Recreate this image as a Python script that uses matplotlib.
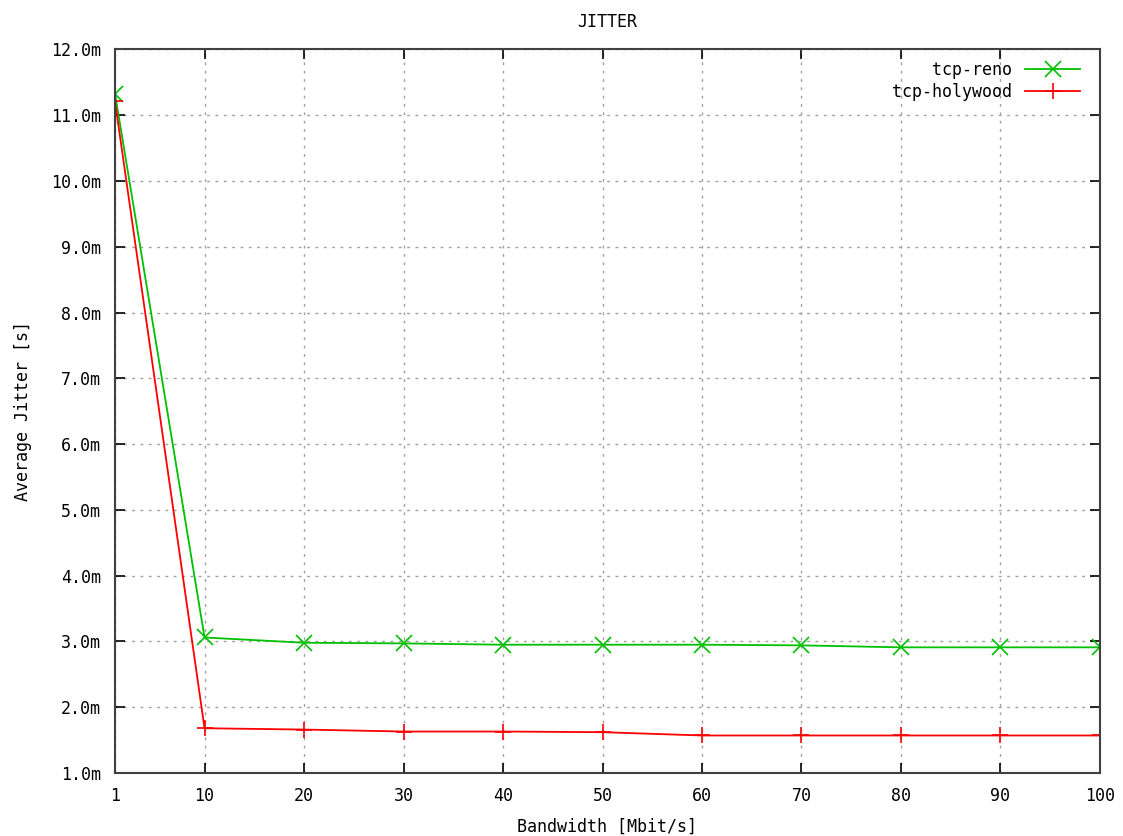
import matplotlib
matplotlib.use("Agg")
import matplotlib.pyplot as plt

# data (jitter in milliseconds)
bandwidth = [1, 10, 20, 30, 40, 50, 60, 70, 80, 90, 100]
reno_jitter = [11.33, 3.06, 2.98, 2.97, 2.95, 2.95, 2.95, 2.94, 2.91, 2.91, 2.91]
holywood_jitter = [11.21, 1.68, 1.66, 1.63, 1.63, 1.62, 1.57, 1.57, 1.57, 1.57, 1.57]

x_ticks = [1, 10, 20, 30, 40, 50, 60, 70, 80, 90, 100]
y_ticks = [1, 2, 3, 4, 5, 6, 7, 8, 9, 10, 11, 12]
y_tick_labels = ["%.1fm" % v for v in y_ticks]

plt.rcParams['font.family'] = ['DejaVu Sans Mono']

fig = plt.figure(figsize=(11.23, 8.36), dpi=100)
ax = fig.add_axes([0.1024, 0.0754, 0.8771, 0.8654])

ax.plot(bandwidth, reno_jitter, color='#00c000', marker='x', markersize=12,
        markeredgewidth=1.2, linewidth=1.3, label='tcp-reno')
ax.plot(bandwidth, holywood_jitter, color='#ff0000', marker='+', markersize=11,
        markeredgewidth=1.2, linewidth=1.3, label='tcp-holywood')

ax.set_xlim(1, 100)
ax.set_ylim(1, 12)
ax.set_xticks(x_ticks)
ax.set_yticks(y_ticks)
ax.set_yticklabels(y_tick_labels)
ax.tick_params(direction='in', length=7, top=True, right=True, labelsize=12, pad=10, width=1.2)
ax.grid(True, color='#a0a0a0', linestyle=(0, (2, 4)), linewidth=1)
for s in ax.spines.values():
    s.set_linewidth(1.5)
    s.set_color('#404040')

ax.set_title("JITTER", fontsize=12, pad=16)
ax.set_xlabel("Bandwidth [Mbit/s]", fontsize=12, labelpad=9)
ax.set_ylabel("Average Jitter [s]", fontsize=12, labelpad=14)

leg = ax.legend(loc='upper right', bbox_to_anchor=(0.9868, 0.9938), frameon=False,
                markerfirst=False, fontsize=12, handlelength=3.3, borderaxespad=0,
                labelspacing=0.25, handletextpad=0.8)
# right-align the legend entries like gnuplot does
leg._legend_handle_box.get_children()[0].align = "right"

fig.savefig("out.png", dpi=100)
